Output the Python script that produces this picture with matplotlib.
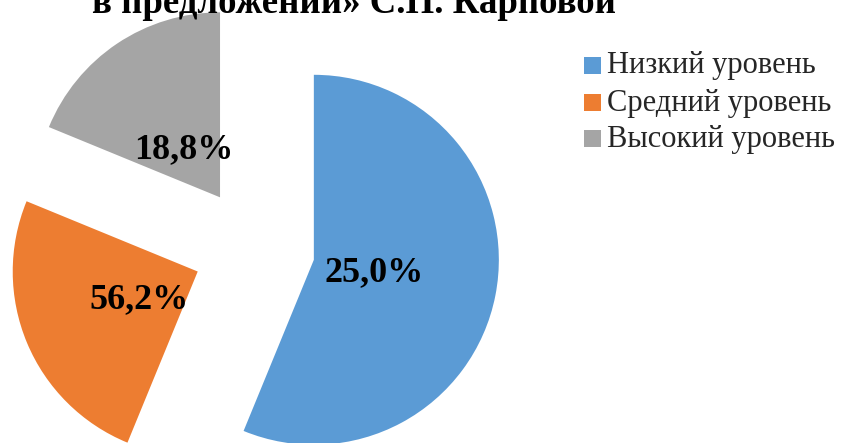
import matplotlib
matplotlib.use("Agg")
import matplotlib.pyplot as plt
from matplotlib.patches import Rectangle

categories = ["Низкий уровень", "Средний уровень", "Высокий уровень"]
values = [56.2, 25.0, 18.8]
label_texts = ["25,0%", "56,2%", "18,8%"]
colors = ["#5B9BD5", "#ED7D31", "#A5A5A5"]
title_text = "в предложении» С.П. Карповой"

W, H = 851, 443
fig = plt.figure(figsize=(W / 100, H / 100), dpi=100)
ax = fig.add_axes([0, 0, 1, 1])

R = 185.0
cx, cy = 254.0, 248.0  # pixel centre (from top)
expl = 61.0 / R

wedges, _ = ax.pie(values, colors=colors, startangle=90, counterclock=False,
                   explode=[expl] * 3, radius=1.0, center=(0, 0),
                   wedgeprops=dict(linewidth=0))
ax.set_aspect("auto")
ax.set_xlim(-cx / R, (W - cx) / R)
ax.set_ylim(-(H - cy) / R, cy / R)
ax.axis("off")

serif = ["Liberation Serif", "DejaVu Serif"]

# data labels (pixel positions from top-left)
label_pos = [(374, 273), (139, 300), (184, 150)]
for (px, py), t in zip(label_pos, label_texts):
    fig.text(px / W, 1 - py / H, t, ha="center", va="center",
             fontsize=26, fontweight="bold", family=serif, color="black")

# title (cropped at top in reference)
fig.text(92 / W, 1 - 13 / H, title_text, ha="left", va="baseline",
         fontsize=26.6, fontweight="bold", family=serif, color="black")

# legend
rows_y = [65, 102, 138]
for yc, c, name in zip(rows_y, colors, categories):
    s = 17
    fig.patches.append(Rectangle((584 / W, 1 - (yc + s / 2) / H), s / W, s / H,
                                 transform=fig.transFigure, facecolor=c,
                                 edgecolor="none"))
    fig.text(607 / W, 1 - (yc + 1) / H, name, ha="left", va="center",
             fontsize=22, family=serif, color="#262626")

fig.savefig("out.png", dpi=100)
